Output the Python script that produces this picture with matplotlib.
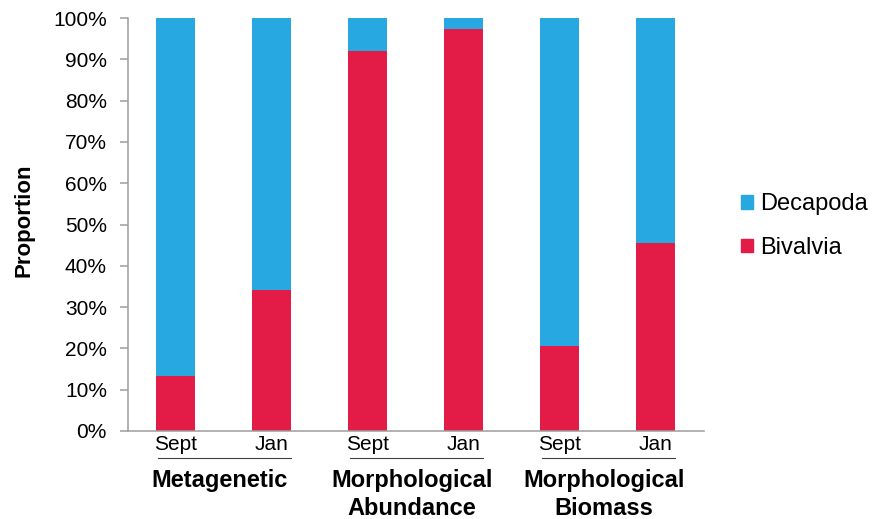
import matplotlib
matplotlib.use('Agg')
import matplotlib.pyplot as plt
from matplotlib.patches import Patch
import numpy as np

plt.rcParams['font.family'] = ['Liberation Sans', 'DejaVu Sans']

# values (percent of total)
groups = [['Metagenetic'], ['Morphological', 'Abundance'], ['Morphological', 'Biomass']]
months = ['Sept', 'Jan']
bivalvia = [13.4, 34.2, 92.0, 97.3, 20.7, 45.5]
decapoda = [86.6, 65.8, 8.0, 2.7, 79.3, 54.5]

BLUE = '#27A8E0'
RED = '#E21C46'
GREY = '#9E9E9E'


def main():
    fig = plt.figure(figsize=(8.72, 5.19), dpi=100)
    ax = fig.add_axes([127.5 / 872, 1 - 431 / 519, 576 / 872, 413 / 519])

    x = np.arange(len(bivalvia))
    ax.bar(x, bivalvia, width=0.4, color=RED)
    ax.bar(x, decapoda, width=0.4, bottom=bivalvia, color=BLUE)

    ax.set_xlim(-0.5, len(x) - 0.5)
    ax.set_ylim(0, 100)
    ax.set_yticks(range(0, 101, 10))
    ax.set_yticklabels(['%d%%' % v for v in range(0, 101, 10)], fontsize=15)
    ax.set_xticks(x)
    ax.set_xticklabels(months * len(groups), fontsize=15)

    for s in ['top', 'right']:
        ax.spines[s].set_visible(False)
    for s in ['left', 'bottom']:
        ax.spines[s].set_color(GREY)
        ax.spines[s].set_linewidth(1.1)
    ax.tick_params(axis='y', length=5.8, width=1.1, color=GREY, pad=9)
    ax.tick_params(axis='x', length=0, pad=3)

    # group separators and labels under the month labels
    trans = ax.get_xaxis_transform()
    for g, lines in enumerate(groups):
        x0 = 2 * g
        ax.plot([x0 - 0.18, x0 + 1.2], [-0.0661, -0.0661], color='#404040',
                lw=0.8, transform=trans, clip_on=False)
        for k, txt in enumerate(lines):
            ax.text(x0 + 0.46, -0.1349 - k * 0.0685, txt, transform=trans,
                    ha='center', va='baseline', fontsize=17, fontweight='bold')

    fig.text(24 / 872, 1 - 220 / 519, 'Proportion', rotation=90, ha='center',
             va='center', fontsize=16, fontweight='bold')

    handles = [Patch(color=BLUE, label='Decapoda'), Patch(color=RED, label='Bivalvia')]
    fig.legend(handles=handles, loc='center left', bbox_to_anchor=(741 / 872, 1 - 226 / 519),
               frameon=False, fontsize=17, handlelength=0.51, handleheight=0.51,
               handletextpad=0.3, labelspacing=0.92, borderpad=0, borderaxespad=0)

    fig.savefig('out.png', dpi=100)


if __name__ == "__main__":
    main()
